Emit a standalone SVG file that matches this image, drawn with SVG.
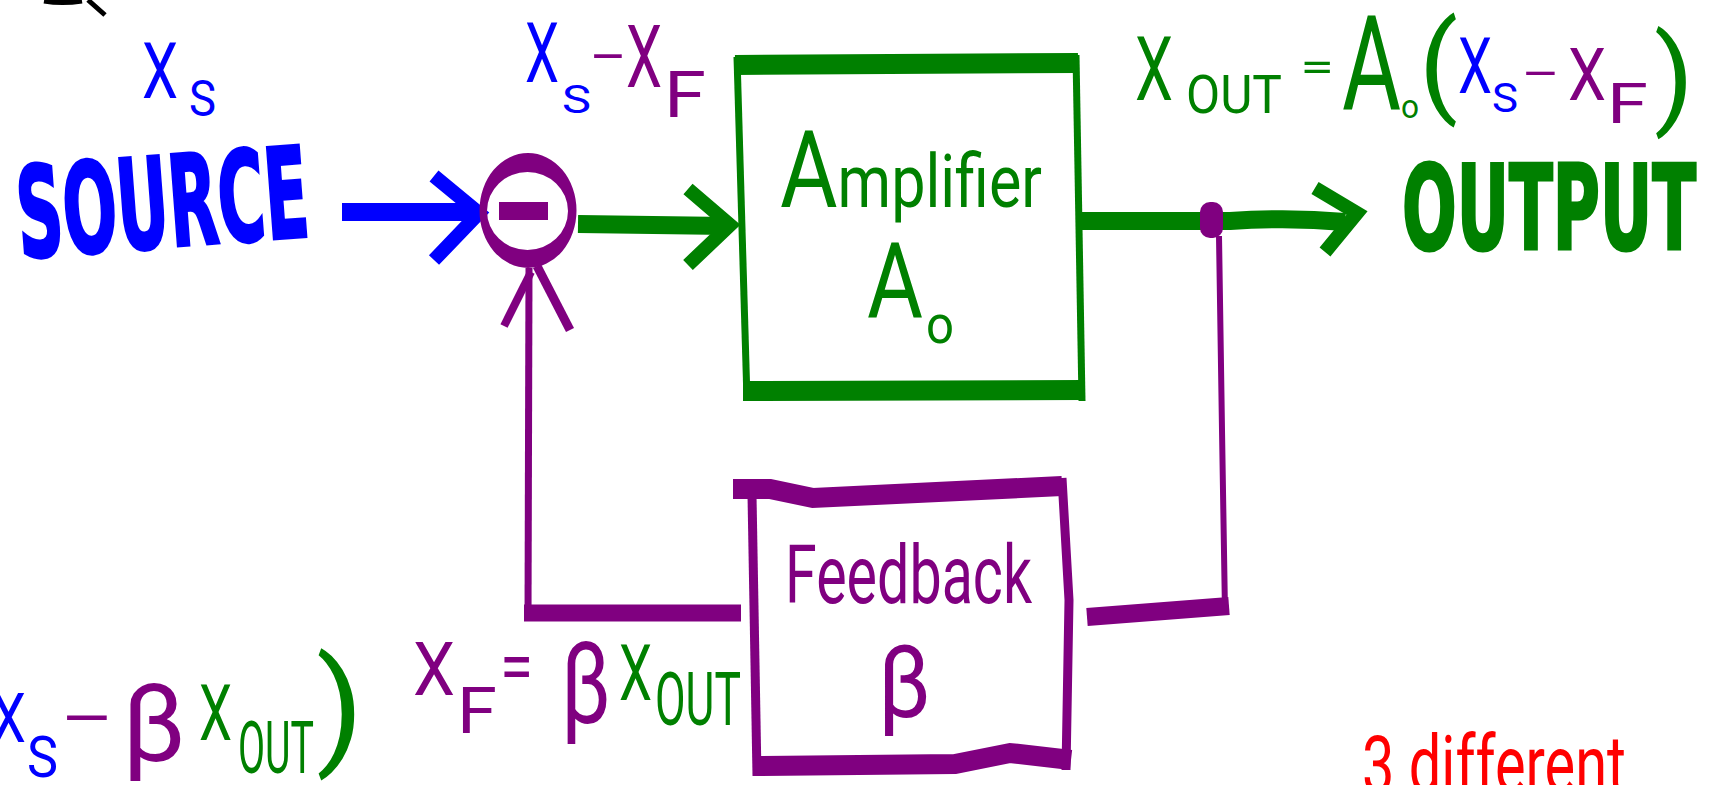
<svg xmlns="http://www.w3.org/2000/svg" width="1721" height="785" viewBox="0 0 1721 785">
<style>
.h{font-family:Roboto,Lato,"DejaVu Sans",sans-serif;font-weight:400}
.b{font-family:"DejaVu Sans","Liberation Sans",sans-serif;font-weight:700}
.bl{fill:#0000FF}.gr{fill:#008000}.pu{fill:#800080}.rd{fill:#FF0000}
.ln{fill:none;stroke-linecap:butt;stroke-linejoin:miter}
.sB{stroke:#0000FF}.sG{stroke:#008000}.sP{stroke:#800080}.sK{stroke:#000000}
</style>
<rect width="1721" height="785" fill="#FFFFFF"/>

<!-- stray mark at top-left -->
<path class="ln sK" d="M44,1 Q62,4 82,1 M88,0 L105,15" stroke-width="5"/>

<g id="connectors">
  <!-- source -> sum -->
  <path class="ln sB" d="M342,212 L478,212" stroke-width="18"/>
  <path class="ln sB" d="M434,176 L479,213 L434,260" stroke-width="14"/>
  <!-- sum -> amplifier -->
  <path class="ln sG" d="M578,224 L728,226" stroke-width="18"/>
  <path class="ln sG" d="M688,189 L730,225 L688,265" stroke-width="14"/>
  <!-- amplifier -> output -->
  <path class="ln sG" d="M1082,221 L1230,221 Q1290,217 1345,222" stroke-width="18"/>
  <path class="ln sG" d="M1315,188 L1357,213 L1325,252" stroke-width="14"/>
  <!-- take-off dot -->
  <rect class="pu" x="1200" y="202" width="23" height="36" rx="10"/>
  <!-- output -> feedback -->
  <path class="ln sP" d="M1219,236 L1222,430 L1225,612" stroke-width="6"/>
  <path class="ln sP" d="M1229,606 L1087,617" stroke-width="18"/>
  <!-- feedback -> sum -->
  <path class="ln sP" d="M741,613 L524,613" stroke-width="17"/>
  <path class="ln sP" d="M528,620 L529,268" stroke-width="7"/>
  <path class="ln sP" d="M504,326 L531,272" stroke-width="8"/>
  <path class="ln sP" d="M537,266 L570,330" stroke-width="9"/>
</g>

<g id="source">
  <text class="b bl" x="20" y="258" font-size="126" textLength="292" lengthAdjust="spacingAndGlyphs" stroke="#0000FF" stroke-width="3" transform="rotate(-4.3 20 258)">SOURCE</text>
</g>

<g id="label-xs">
  <text class="h bl" x="142" y="98" font-size="77" textLength="36" lengthAdjust="spacingAndGlyphs">X</text>
  <text class="h bl" x="189" y="116" font-size="50" textLength="27" lengthAdjust="spacingAndGlyphs">S</text>
</g>

<g id="sum">
  <path class="pu" fill-rule="evenodd" d="M576.5,210.5 A48.5,57.5 0 1 1 479.5,210.5 A48.5,57.5 0 1 1 576.5,210.5 Z M568,211 A40.5,39 0 1 0 487,211 A40.5,39 0 1 0 568,211 Z"/>
  <rect class="pu" x="499" y="202" width="49" height="18"/>
</g>

<g id="label-error">
  <text class="h bl" x="525" y="82" font-size="83" textLength="34" lengthAdjust="spacingAndGlyphs">X</text>
  <text class="h bl" x="562" y="113" font-size="38" textLength="29" lengthAdjust="spacingAndGlyphs">S</text>
  <text class="h pu" x="592" y="71" font-size="50" textLength="32" lengthAdjust="spacingAndGlyphs">-</text>
  <text class="h pu" x="626" y="87" font-size="87" textLength="36" lengthAdjust="spacingAndGlyphs">X</text>
  <text class="h pu" x="664" y="117" font-size="64" textLength="42" lengthAdjust="spacingAndGlyphs">F</text>
</g>

<g id="amplifier">
  <path class="ln sG" d="M735,65 L1078,63" stroke-width="20"/>
  <path class="ln sG" d="M737,57 L747,400" stroke-width="7"/>
  <path class="ln sG" d="M1076,55 L1082,401" stroke-width="7"/>
  <path class="ln sG" d="M743,391 L1085,390" stroke-width="20"/>
  <text class="h gr" x="780" y="207" textLength="262" lengthAdjust="spacingAndGlyphs"><tspan font-size="107">A</tspan><tspan font-size="74">mplifier</tspan></text>
  <text class="h gr" x="867" y="318" font-size="105" textLength="56" lengthAdjust="spacingAndGlyphs">A</text>
  <text class="h gr" x="926" y="343" font-size="53" textLength="28" lengthAdjust="spacingAndGlyphs">o</text>
</g>

<g id="label-xout">
  <text class="h gr" x="1135" y="100" font-size="89" textLength="38" lengthAdjust="spacingAndGlyphs">X</text>
  <text class="h gr" x="1186" y="113" font-size="53" textLength="96" lengthAdjust="spacingAndGlyphs">OUT</text>
  <text class="h gr" x="1300" y="81" font-size="40" textLength="34" lengthAdjust="spacingAndGlyphs">=</text>
  <text class="h gr" x="1342" y="110" font-size="132" textLength="59" lengthAdjust="spacingAndGlyphs">A</text>
  <text class="h gr" x="1401" y="118" font-size="34" textLength="18" lengthAdjust="spacingAndGlyphs">o</text>
  <text class="h gr" x="1419" y="102" font-size="112" textLength="39" lengthAdjust="spacingAndGlyphs">(</text>
  <text class="h bl" x="1458" y="93" font-size="77" textLength="34" lengthAdjust="spacingAndGlyphs">X</text>
  <text class="h bl" x="1492" y="112" font-size="40" textLength="26" lengthAdjust="spacingAndGlyphs">S</text>
  <text class="h pu" x="1524" y="87" font-size="44" textLength="33" lengthAdjust="spacingAndGlyphs">-</text>
  <text class="h pu" x="1568" y="100" font-size="73" textLength="38" lengthAdjust="spacingAndGlyphs">X</text>
  <text class="h pu" x="1607" y="123" font-size="56" textLength="41" lengthAdjust="spacingAndGlyphs">F</text>
  <text class="h gr" x="1654" y="114" font-size="110" textLength="40" lengthAdjust="spacingAndGlyphs">)</text>
</g>

<g id="output">
  <text class="b gr" x="1402" y="249" font-size="117" textLength="294" lengthAdjust="spacingAndGlyphs" stroke="#008000" stroke-width="3">OUTPUT</text>
</g>

<g id="feedback">
  <path class="ln sP" d="M733,489 L770,489 L813,498 L1062,486" stroke-width="20"/>
  <path class="ln sP" d="M752,495 L757,776" stroke-width="9"/>
  <path class="ln sP" d="M1062,478 L1069,600 L1066,770" stroke-width="9"/>
  <path class="ln sP" d="M755,766 L955,764 L1010,753 L1071,760" stroke-width="20"/>
  <text class="h pu" x="785" y="603" font-size="82" textLength="247" lengthAdjust="spacingAndGlyphs">Feedback</text>
  <text class="h pu" x="878" y="717" font-size="101" textLength="53" lengthAdjust="spacingAndGlyphs">β</text>
</g>

<g id="label-xf">
  <text class="h pu" x="413" y="695" font-size="75" textLength="42" lengthAdjust="spacingAndGlyphs">X</text>
  <text class="h pu" x="457" y="733" font-size="65" textLength="40" lengthAdjust="spacingAndGlyphs">F</text>
  <text class="h pu" x="500" y="691" font-size="70" textLength="33" lengthAdjust="spacingAndGlyphs">=</text>
  <text class="h pu" x="561" y="723" font-size="113" textLength="50" lengthAdjust="spacingAndGlyphs">β</text>
  <text class="h gr" x="619" y="700" font-size="77" textLength="33" lengthAdjust="spacingAndGlyphs">X</text>
  <text class="h gr" x="655" y="725" font-size="75" textLength="86" lengthAdjust="spacingAndGlyphs">OUT</text>
</g>

<g id="label-sum-expr">
  <text class="h bl" x="-9" y="742" font-size="69" textLength="35" lengthAdjust="spacingAndGlyphs">X</text>
  <text class="h bl" x="27" y="777" font-size="58" textLength="31" lengthAdjust="spacingAndGlyphs">S</text>
  <text class="h pu" x="64" y="736" font-size="60" textLength="46" lengthAdjust="spacingAndGlyphs">-</text>
  <text class="h pu" x="122" y="761" font-size="108" textLength="64" lengthAdjust="spacingAndGlyphs">β</text>
  <text class="h gr" x="199" y="740" font-size="77" textLength="33" lengthAdjust="spacingAndGlyphs">X</text>
  <text class="h gr" x="238" y="773" font-size="72" textLength="76" lengthAdjust="spacingAndGlyphs">OUT</text>
  <text class="h gr" x="316" y="751" font-size="128" textLength="48" lengthAdjust="spacingAndGlyphs">)</text>
</g>

<g id="note">
  <text class="h rd" x="1362" y="792" font-size="80" textLength="264" lengthAdjust="spacingAndGlyphs">3 different</text>
</g>
</svg>
